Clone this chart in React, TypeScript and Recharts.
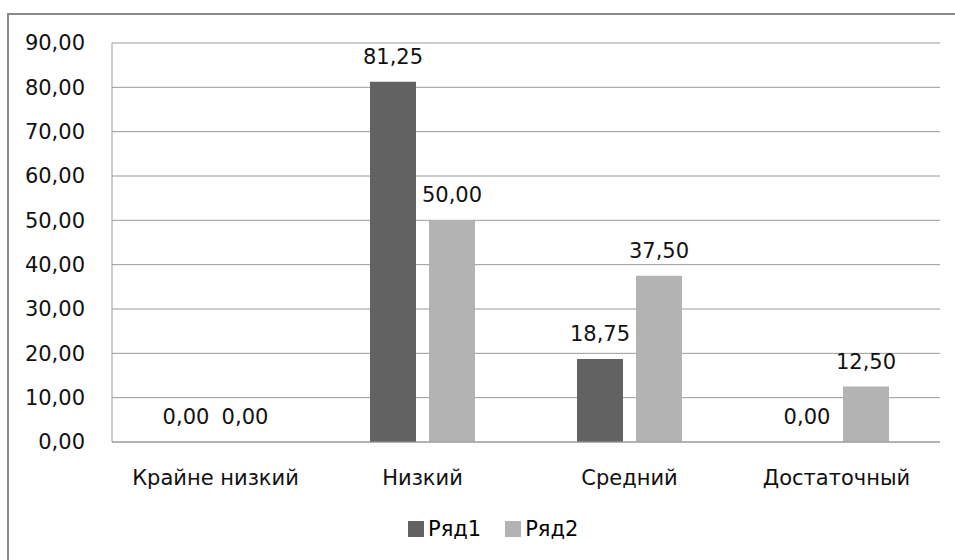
import React from 'react';
import { BarChart, Bar, XAxis, YAxis, CartesianGrid, LabelList, Legend } from 'recharts';

const categories = ['Крайне низкий', 'Низкий', 'Средний', 'Достаточный'];
const series1 = [0, 81.25, 18.75, 0];
const series2 = [0, 50, 37.5, 12.5];
const yTicks = [0, 10, 20, 30, 40, 50, 60, 70, 80, 90];
const seriesNames = ['Ряд1', 'Ряд2'];
const colors = ['#626262', '#b3b3b3'];

const data = categories.map((name, i) => ({ name, s1: series1[i], s2: series2[i] }));

const FONT = '"DejaVu Sans", Verdana, sans-serif';
const FS = 21;
const fmt = (v: number) => Number(v).toFixed(2).replace('.', ',');

const LegendContent = () => (
  <div style={{ display: 'flex', alignItems: 'center', fontFamily: FONT, fontSize: FS, color: '#000' }}>
    {seriesNames.map((n, i) => (
      <div key={n} style={{ display: 'flex', alignItems: 'center', marginRight: 24 }}>
        <span style={{ display: 'inline-block', width: 16, height: 16, background: colors[i], marginRight: 4 }} />
        <span>{n}</span>
      </div>
    ))}
  </div>
);

export default function App() {
  return (
    <div style={{ position: 'absolute', left: 0, top: 0, width: 955, height: 560, overflow: 'hidden', background: '#fff' }}>
      {/* chart frame, right and bottom edges fall outside the picture */}
      <div style={{ position: 'absolute', left: 7, top: 13, width: 980, height: 600, border: '2px solid #8a8a8a' }} />
      <div style={{ position: 'absolute', left: 0, top: 0 }}>
        <BarChart width={955} height={560} data={data} margin={{ top: 43, right: 15, bottom: 58, left: 0 }} barSize={46} barGap={13}>
          <CartesianGrid horizontal vertical={false} stroke="#9a9a9a" />
          <XAxis
            dataKey="name"
            height={60}
            tickLine={false}
            tickSize={0}
            tickMargin={28}
            axisLine={{ stroke: '#9a9a9a' }}
            tick={{ fontFamily: FONT, fontSize: FS, fill: '#111' }}
          />
          <YAxis
            width={112}
            domain={[0, 90]}
            ticks={yTicks}
            tickLine={false}
            tickSize={0}
            tickMargin={27}
            axisLine={{ stroke: '#9a9a9a' }}
            tickFormatter={fmt}
            tick={{ fontFamily: FONT, fontSize: FS, fill: '#111' }}
          />
          <Legend
            layout="horizontal"
            verticalAlign="middle"
            align="center"
            content={<LegendContent />}
            wrapperStyle={{ top: 517, left: 408, width: 300, height: 26 }}
          />
          <Bar dataKey="s1" name={seriesNames[0]} fill={colors[0]} minPointSize={0.01} isAnimationActive={false}>
            <LabelList dataKey="s1" position="top" offset={18} formatter={fmt} style={{ fontFamily: FONT, fontSize: FS, fill: '#111' }} />
          </Bar>
          <Bar dataKey="s2" name={seriesNames[1]} fill={colors[1]} minPointSize={0.01} isAnimationActive={false}>
            <LabelList dataKey="s2" position="top" offset={18} formatter={fmt} style={{ fontFamily: FONT, fontSize: FS, fill: '#111' }} />
          </Bar>
        </BarChart>
      </div>
    </div>
  );
}
